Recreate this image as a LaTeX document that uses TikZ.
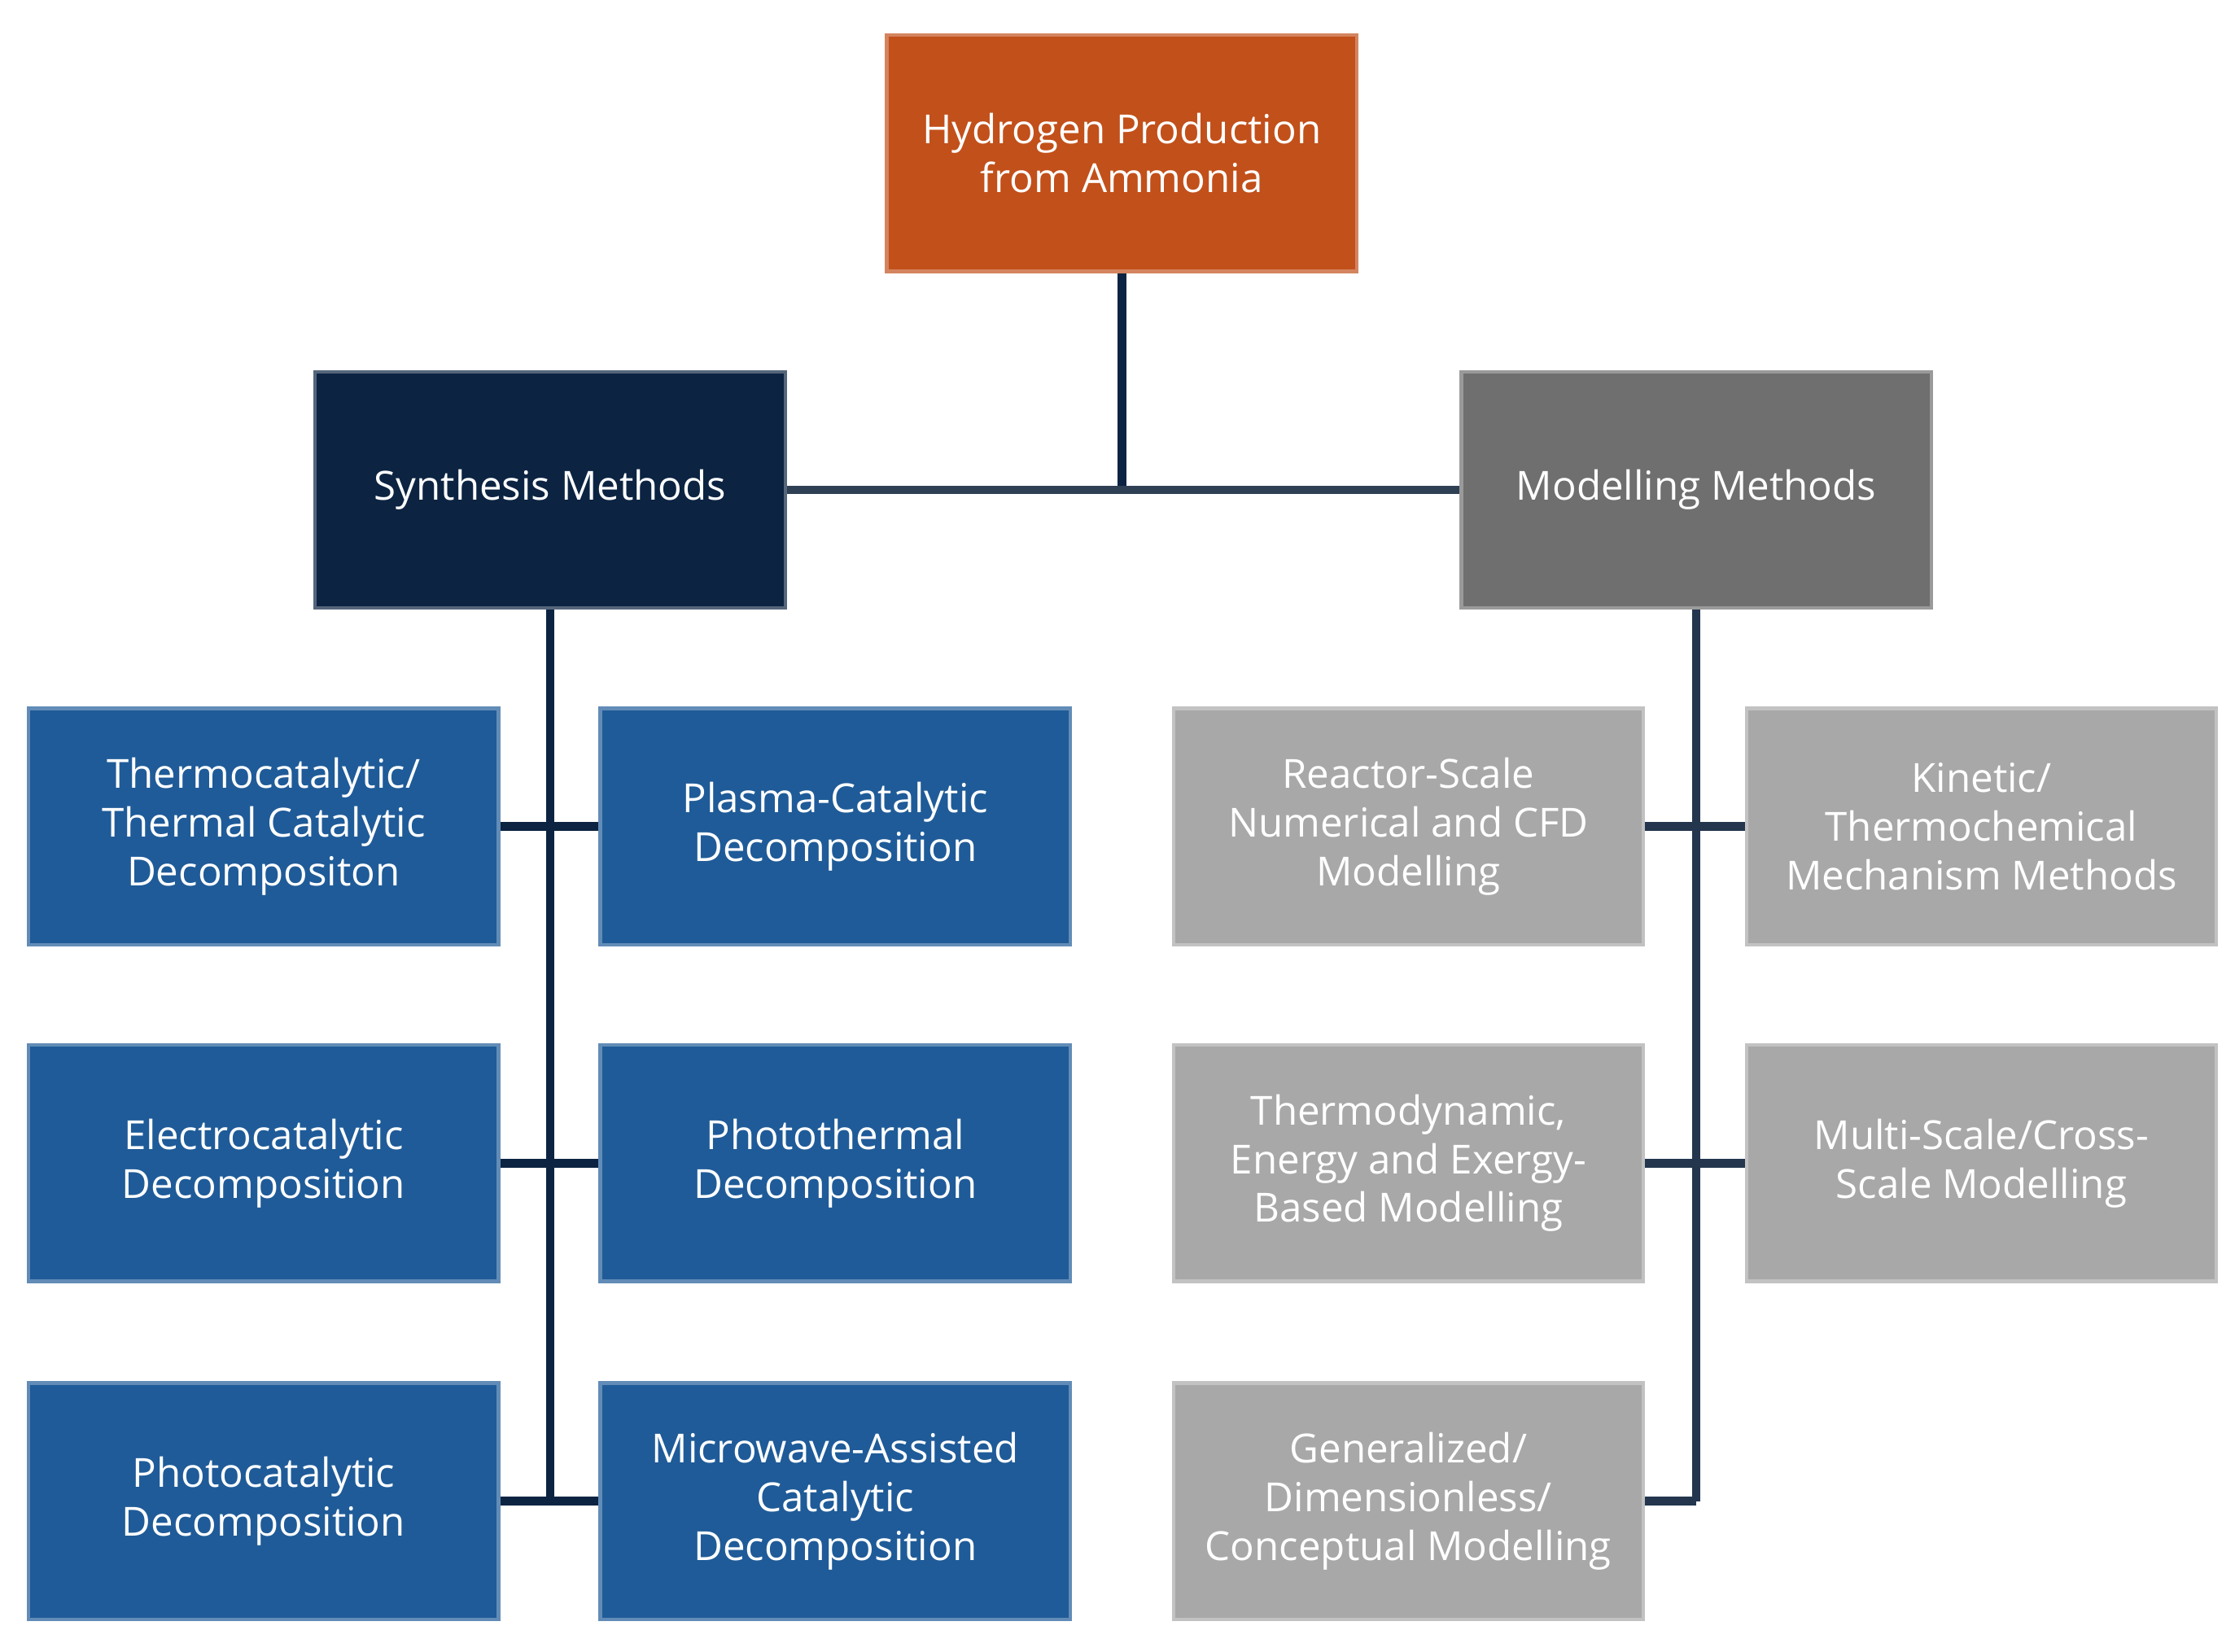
\documentclass[tikz,border=0pt]{standalone}
\usepackage{fontspec}
\setmainfont{Open Sans}
\begin{document}
\begin{tikzpicture}[x=0.0176cm,y=-0.0176cm,
  box/.style={draw=#1!70!white,line width=1.2pt,minimum width=328*0.0176cm,minimum height=165*0.0176cm,align=center,text=white,font=\fontsize{14}{17}\selectfont,inner sep=2pt},
  conn/.style={line width=3pt,draw=#1},
]
\definecolor{orng}{HTML}{C2501A}
\definecolor{navy}{HTML}{0C2442}
\definecolor{gry}{HTML}{6F6F6F}
\definecolor{blu}{HTML}{1F5B98}
\definecolor{lgry}{HTML}{A8A8A8}
\useasboundingbox (0,0) rectangle (1560,1153);
\node[box=orng,fill=orng] (top) at (783,107) {Hydrogen Production\\from Ammonia};
\node[box=navy,fill=navy] (syn) at (384,342) {Synthesis Methods};
\node[box=gry,fill=gry] (mod) at (1184,342) {Modelling Methods};
\node[box=blu,fill=blu] (a1) at (184,577) {Thermocatalytic/\\Thermal Catalytic\\Decompositon};
\node[box=blu,fill=blu] (b1) at (583,577) {Plasma-Catalytic\\Decomposition};
\node[box=blu,fill=blu] (a2) at (184,812) {Electrocatalytic\\Decomposition};
\node[box=blu,fill=blu] (b2) at (583,812) {Photothermal\\Decomposition};
\node[box=blu,fill=blu] (a3) at (184,1048) {Photocatalytic\\Decomposition};
\node[box=blu,fill=blu] (b3) at (583,1048) {Microwave-Assisted\\Catalytic\\Decomposition};
\node[box=lgry,fill=lgry] (c1) at (983,577) {Reactor-Scale\\Numerical and CFD\\Modelling};
\node[box=lgry,fill=lgry] (d1) at (1383,577) {Kinetic/\\Thermochemical\\Mechanism Methods};
\node[box=lgry,fill=lgry] (c2) at (983,812) {Thermodynamic,\\Energy and Exergy-\\Based Modelling};
\node[box=lgry,fill=lgry] (d2) at (1383,812) {Multi-Scale/Cross-\\Scale Modelling};
\node[box=lgry,fill=lgry] (c3) at (983,1048) {Generalized/\\Dimensionless/\\Conceptual Modelling};
\coordinate (j) at (783,342);
\coordinate (sb) at (384,1048);
\coordinate (mb) at (1184,1048);
\draw[conn=navy] (top.south) -- (j);
\draw[conn=navy!70!gray] (syn.east) -- (mod.west);
\draw[conn=navy] (syn.south) -- (sb);
\draw[conn=navy] (a1.east) -- (b1.west);
\draw[conn=navy] (a2.east) -- (b2.west);
\draw[conn=navy] (a3.east) -- (b3.west);
\draw[conn=navy!80!gray] (mod.south) -- (mb);
\draw[conn=navy!80!gray] (c1.east) -- (d1.west);
\draw[conn=navy!80!gray] (c2.east) -- (d2.west);
\draw[conn=navy!80!gray] (c3.east) -- (mb);
\end{tikzpicture}
\end{document}
